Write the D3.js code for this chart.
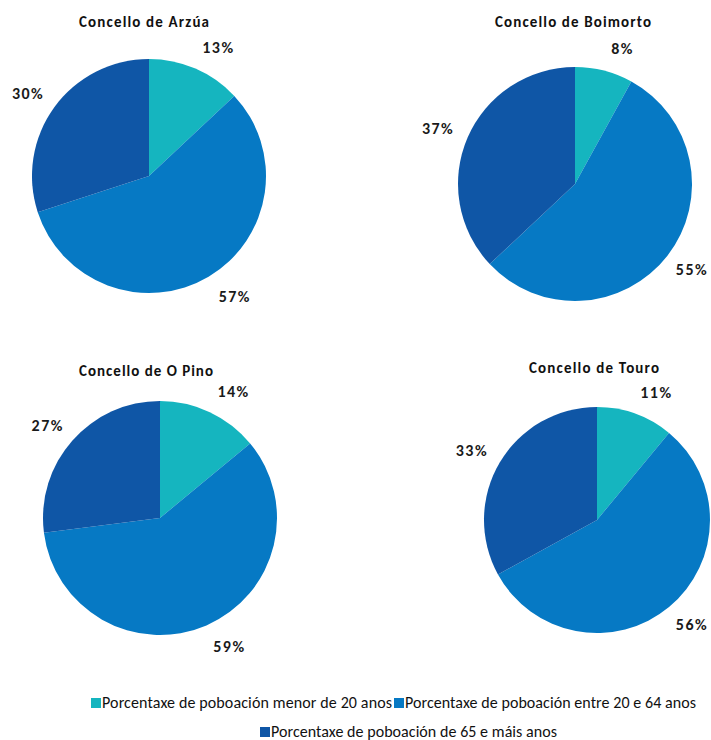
<!DOCTYPE html>
<html>
<head>
<meta charset="utf-8">
<script src="https://cdn.jsdelivr.net/npm/d3@7"></script>
<style>
  body { margin: 0; background: #fff; }
  text { font-family: Carlito, "Liberation Sans Narrow", "Liberation Sans", Arial, sans-serif; }
</style>
</head>
<body>
<div id="chart"></div>
<script>
// data
var concellos = ["Concello de  Arzúa", "Concello de  Boimorto", "Concello de  O Pino", "Concello de  Touro"]
var groups = ["Porcentaxe de poboación menor de 20 anos", "Porcentaxe de poboación entre 20 e 64 anos", "Porcentaxe de poboación de 65 e máis anos"]
var arzua = [13, 57, 30]
var boimorto = [8, 55, 37]
var opino = [14, 59, 27]
var touro = [11, 56, 33]
var colors = ["#15b5bf", "#0679c4", "#0f56a6"]

var W = 711, H = 740
var svg = d3.select("#chart").append("svg")
            .attr("width", W)
            .attr("height", H)

var colorScale = d3.scaleOrdinal().domain(groups).range(colors)

// layout of each pie (center, radius, title position and width)
var layout = [
  {cx: 149, cy: 176, r: 117, tx: 144, ty: 27, tw: 130},
  {cx: 575, cy: 184, r: 117, tx: 573, ty: 27, tw: 156},
  {cx: 160, cy: 518, r: 117, tx: 146, ty: 376, tw: 134},
  {cx: 597, cy: 520, r: 113, tx: 594, ty: 373, tw: 130}
]
var allValues = [arzua, boimorto, opino, touro]

var pie = d3.pie().sort(null).value(function(d){ return d })

allValues.forEach(function(vals, i){
  var L = layout[i]
  var g = svg.append("g").attr("transform", `translate(${L.cx},${L.cy})`)
  var arc = d3.arc().innerRadius(0).outerRadius(L.r)
  var labelArc = d3.arc().innerRadius(L.r + 30).outerRadius(L.r + 30)
  var slices = pie(vals)

  g.selectAll("path").data(slices).enter().append("path")
    .attr("d", arc)
    .style("fill", function(d, j){ return colorScale(groups[j]) })

  //outside-end labels, nudged like excel does, kept inside the page
  g.selectAll("text.lbl").data(slices).enter().append("text")
    .attr("class", "lbl")
    .attr("transform", function(d){
      var c = labelArc.centroid(d)
      var a = (d.startAngle + d.endAngle) / 2
      var dx = Math.sin(a) > 0 ? 11 : -2
      var dy = Math.cos(a) * 7
      var x = Math.min(c[0] + dx, W - 19 - L.cx)
      return `translate(${x},${c[1] + dy})`
    })
    .attr("text-anchor", "middle")
    .attr("dy", "0.35em")
    .style("font-size", "16px")
    .style("font-weight", "bold")
    .style("letter-spacing", "1.5px")
    .style("fill", "#1a1a1a")
    .text(function(d){ return d.data + "%" })

  svg.append("text")
    .attr("x", L.tx - L.tw / 2)
    .attr("y", L.ty)
    .attr("textLength", L.tw)
    .attr("lengthAdjust", "spacing")
    .style("font-size", "15px")
    .style("font-weight", "bold")
    .style("fill", "#111")
    .text(concellos[i])
})

// legend
var legendPos = [
  {x: 91, y: 708, w: 290},
  {x: 394, y: 708, w: 291},
  {x: 260, y: 737, w: 286}
]
var legend = svg.append("g")
groups.forEach(function(name, i){
  var p = legendPos[i]
  legend.append("rect")
    .attr("x", p.x)
    .attr("y", p.y - 10)
    .attr("width", 10)
    .attr("height", 10)
    .style("fill", colorScale(name))
  legend.append("text")
    .attr("x", p.x + 11)
    .attr("y", p.y)
    .attr("textLength", p.w)
    .attr("lengthAdjust", "spacing")
    .style("font-size", "16px")
    .style("fill", "#111")
    .text(name)
})
</script>
</body>
</html>
